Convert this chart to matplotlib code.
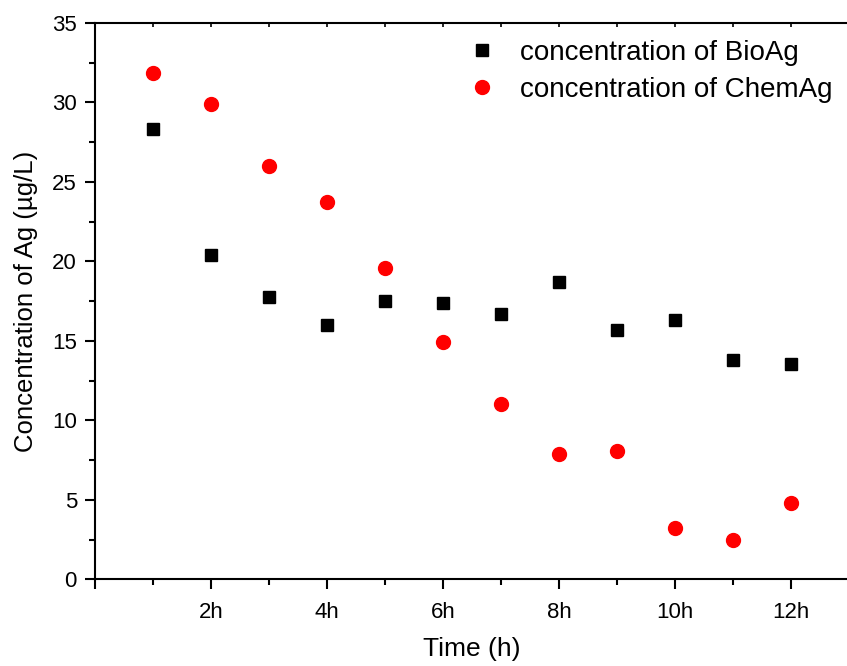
import matplotlib
matplotlib.use('Agg')
import matplotlib.pyplot as plt
import numpy as np
from matplotlib.ticker import MultipleLocator

plt.rcParams['font.family'] = ['Liberation Sans', 'DejaVu Sans']
plt.rcParams['xtick.labelsize'] = 16
plt.rcParams['ytick.labelsize'] = 16

# Data
hours = [1, 2, 3, 4, 5, 6, 7, 8, 9, 10, 11, 12]
bio_ag = [28.33, 20.43, 17.75, 16.03, 17.52, 17.41, 16.68, 18.73, 15.69, 16.32, 13.79, 13.53]
chem_ag = [31.87, 29.9, 26.0, 23.74, 19.61, 14.92, 11.04, 7.91, 8.06, 3.22, 2.48, 4.83]
xtick_pos = [0, 2, 4, 6, 8, 10, 12]
xtick_labels = ['', '2h', '4h', '6h', '8h', '10h', '12h']

fig = plt.figure(figsize=(8.47, 6.66), dpi=100)
ax = fig.add_axes([0.1122, 0.1299, 0.8902, 0.8356])

ax.plot(hours, bio_ag, linestyle='none', marker='s', markersize=8.5,
        color='black', label='concentration of BioAg')
ax.plot(hours, chem_ag, linestyle='none', marker='o', markersize=10,
        color='#ff0000', label='concentration of ChemAg')

ax.set_xlim(0, 13)
ax.set_ylim(0, 35)
ax.set_xticks(xtick_pos)
ax.set_xticklabels(xtick_labels)
ax.xaxis.set_minor_locator(MultipleLocator(1))
ax.yaxis.set_major_locator(MultipleLocator(5))
ax.yaxis.set_minor_locator(MultipleLocator(2.5))

for side in ['left', 'bottom', 'top']:
    ax.spines[side].set_linewidth(1.5)
ax.spines['right'].set_visible(False)

ax.tick_params(which='major', direction='out', length=7, width=1.5)
ax.tick_params(axis='x', which='major', pad=9)
ax.tick_params(axis='y', which='major', pad=6)
ax.tick_params(which='minor', direction='out', length=4, width=1.5)

# small inward ticks along the top spine
top = ax.secondary_xaxis('top')
top.set_xticks(xtick_pos)
top.xaxis.set_minor_locator(MultipleLocator(1))
top.tick_params(which='both', direction='in', length=3, width=1.2, labeltop=False)
top.spines['top'].set_visible(False)

ax.set_xlabel('Time (h)', fontsize=19, labelpad=10)
ax.set_ylabel('Concentration of Ag (µg/L)', fontsize=18.5, labelpad=10)

ax.legend(loc='upper right', bbox_to_anchor=(1.0, 1.0), frameon=False,
          fontsize=20, handletextpad=0.35, labelspacing=0.4, borderaxespad=0.2)

plt.savefig('out.png', dpi=100)
